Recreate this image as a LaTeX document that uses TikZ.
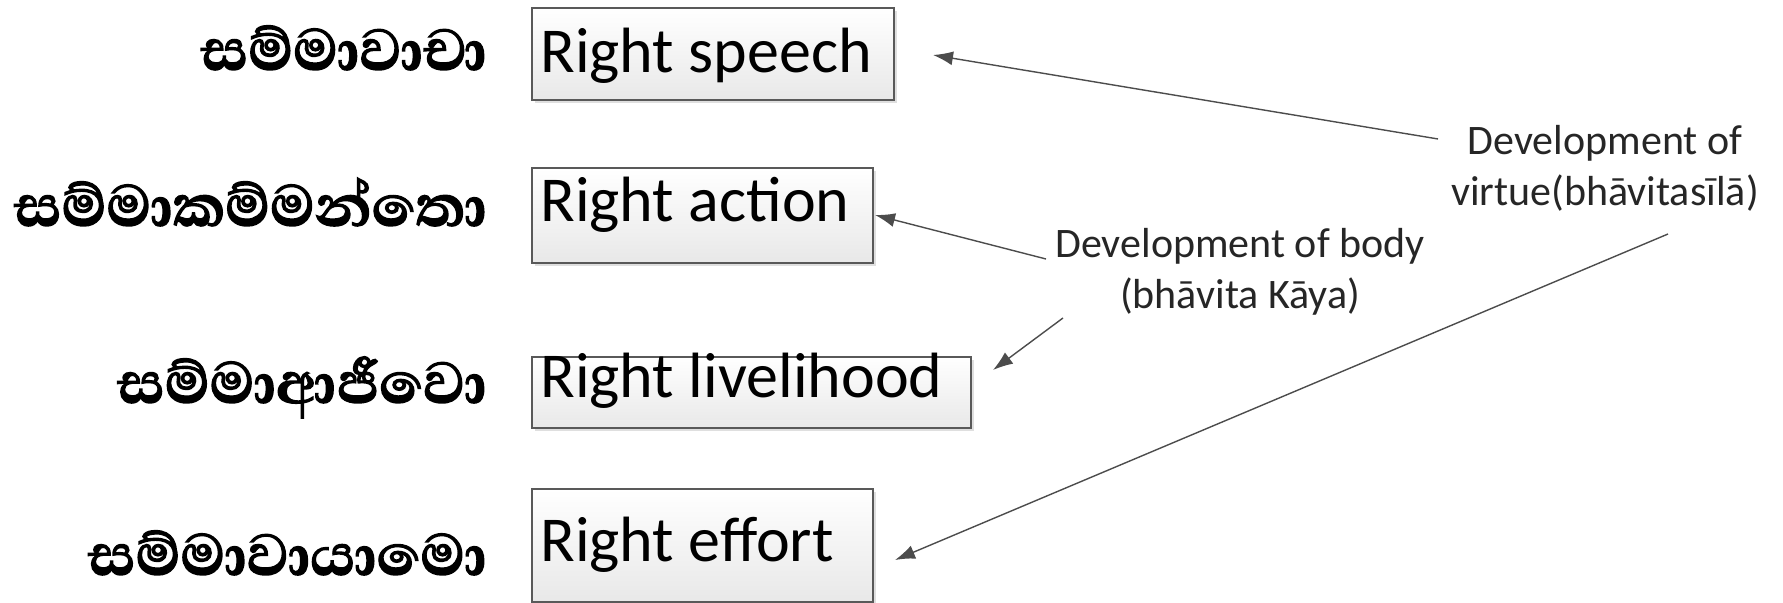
\documentclass[tikz,border=0pt]{standalone}
\usepackage{fontspec}
\setmainfont{Carlito}
\newfontfamily\sinhalafont[Script=Sinhala, BoldFeatures={FakeBold=2}]{Abhaya Libre}
\usetikzlibrary{shadows,arrows.meta}
\begin{document}
\begin{tikzpicture}[x=0.5pt,y=-0.5pt,
  boxstyle/.style={draw=black!65, line width=0.7pt, top color=white, bottom color=black!9,
     drop shadow={shadow xshift=1.5pt, shadow yshift=-1.5pt, fill=black!25, opacity=0.5}},
  boxtext/.style={anchor=base west, inner sep=0pt, font=\fontsize{32pt}{38pt}\selectfont},
  sinlabel/.style={anchor=base east, inner sep=0pt, font=\sinhalafont\bfseries\fontsize{37pt}{44pt}\selectfont},
  devlabel/.style={align=center, inner sep=0pt, font=\fontsize{21pt}{25.5pt}\selectfont, text=black!85},
  conn/.style={draw=black!70, line width=0.7pt, -{Latex[length=10pt,width=7pt]}}]
\useasboundingbox (0,0) rectangle (1783,603);
% boxes
\path[boxstyle] (532,8) rectangle (894,100);
\path[boxstyle] (532,168) rectangle (873,263);
\path[boxstyle] (532,357) rectangle (971,428);
\path[boxstyle] (532,489) rectangle (873,602);
\node[boxtext] (speech) at (540,73) {Right speech};
\node[boxtext] (action) at (540,222) {Right action};
\node[boxtext] (live) at (540,398) {Right livelihood};
\node[boxtext] (effort) at (540,562) {Right effort};
% sinhala labels
\node[sinlabel] (s1) at (487,70) {සම්මාවාචා};
\node[sinlabel] (s2) at (487,226) {සම්මාකම්මන්තො};
\node[sinlabel] (s3) at (487,403) {සම්මාආජීවො};
\node[sinlabel] (s4) at (487,575) {සම්මාවායාමො};
% labels
\node[devlabel] (virtue) at (1605,168) {Development of\\virtue(bhāvitasīlā)};
\node[devlabel] (body) at (1240,272) {Development of body\\(bhāvita Kāya)};
% connector ends
\coordinate (v1) at (1438,139);
\coordinate (t1) at (933,55);
\coordinate (b1) at (1046,259);
\coordinate (t2) at (875,215);
\coordinate (b2) at (1063,318);
\coordinate (t3) at (993,370);
\coordinate (v2) at (1668,234);
\coordinate (t4) at (895,560);
\draw[conn] (v1) -- (t1);
\draw[conn] (b1) -- (t2);
\draw[conn] (b2) -- (t3);
\draw[conn] (v2) -- (t4);
\end{tikzpicture}
\end{document}
